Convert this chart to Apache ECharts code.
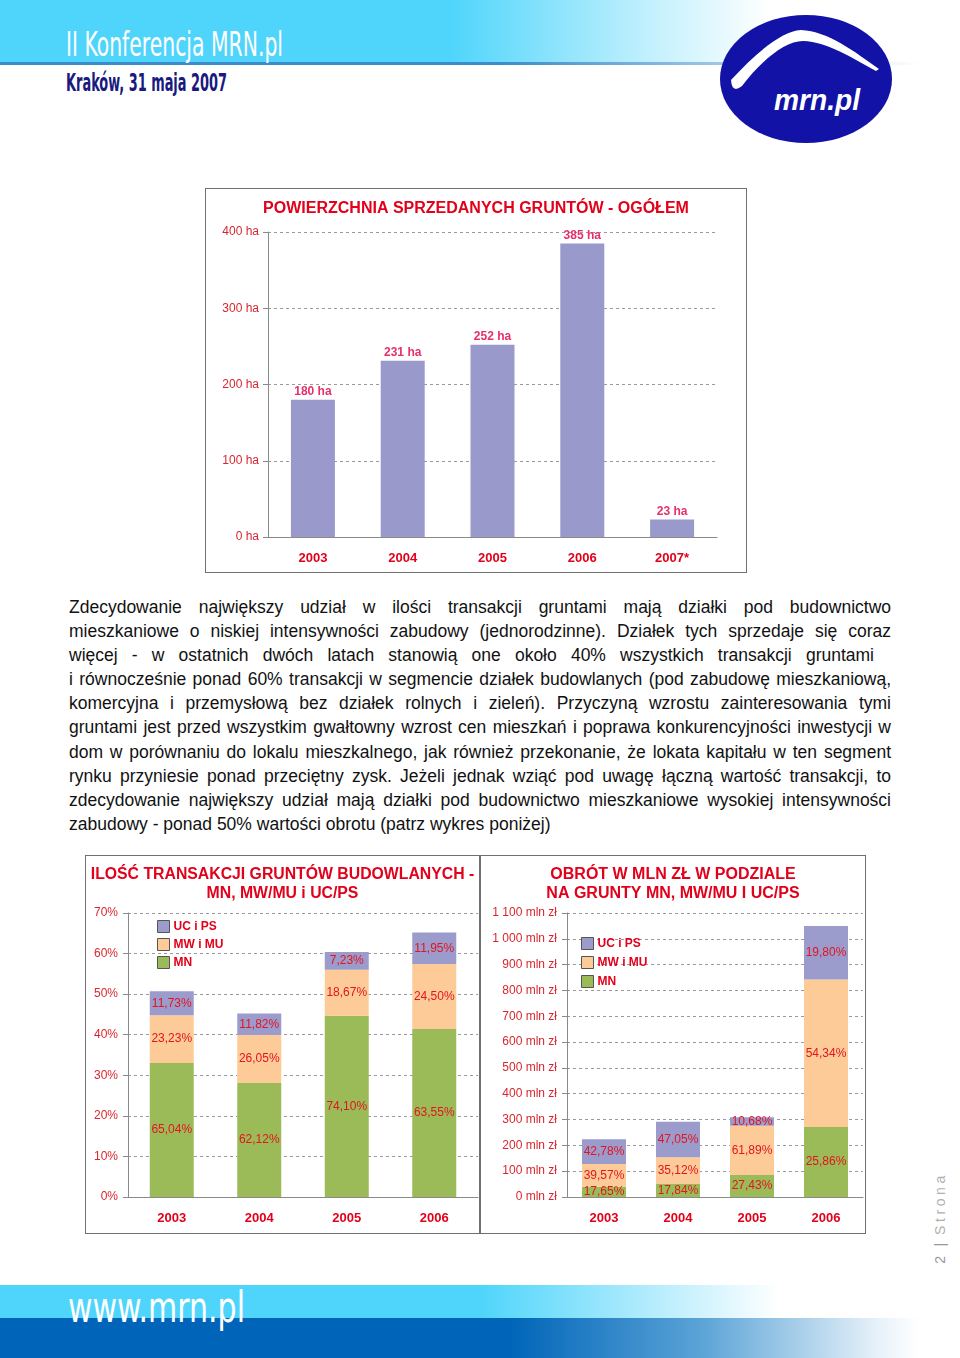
<!DOCTYPE html>
<html><head><meta charset="utf-8">
<script src="https://cdn.jsdelivr.net/npm/echarts/dist/echarts.min.js"></script>
<style>
body{margin:0;background:#fff;}
#page{position:relative;width:960px;height:1358px;overflow:hidden;font-family:'Liberation Sans',Arial,sans-serif;background:#fff;}
.abs{position:absolute;}
.chart{position:absolute;border:1px solid #707070;}
#para{position:absolute;left:69px;top:595px;width:822px;font-size:17.5px;line-height:24.1px;color:#111;}
#para div{text-align:justify;text-align-last:justify;white-space:nowrap;}
#para div.last{text-align:left;text-align-last:left;}
</style></head>
<body><div id="page">
<!-- header -->
<div class="abs" style="left:0;top:0;width:960px;height:62px;background:linear-gradient(to right,#4fd5fb 0,#4fd5fb 450px,#bdeffd 640px,#fff 770px);"></div>
<div class="abs" style="left:0;top:62px;width:960px;height:3px;background:linear-gradient(to right,#3a8ccb 0,#3a8ccb 500px,rgba(58,140,203,0.3) 800px,rgba(58,140,203,0) 920px);"></div>
<svg class="abs" style="left:0;top:0" width="960" height="160">
  <text x="66" y="56" textLength="217" lengthAdjust="spacingAndGlyphs" font-family="DejaVu Sans Condensed, DejaVu Sans, sans-serif" font-size="33" fill="#fff">II Konferencja MRN.pl</text>
  <text x="66" y="91" textLength="161" lengthAdjust="spacingAndGlyphs" font-family="DejaVu Sans Condensed, DejaVu Sans, sans-serif" font-weight="bold" font-size="24" fill="#1a1a7e">Kraków, 31 maja 2007</text>
  <ellipse cx="806" cy="79" rx="86" ry="64" fill="#1212a6"/>
  <path d="M731 80 C757 52,782 31,801 30 C828 31,855 52,879 69 L876 71 C852 58,828 42,803 41 C785 41,762 60,742 86 Q732 94,731 80 Z" fill="#fff"/>
  <text x="817" y="110" text-anchor="middle" textLength="86" lengthAdjust="spacingAndGlyphs" font-family="Liberation Sans, Arial, sans-serif" font-weight="bold" font-style="italic" font-size="29" fill="#fff">mrn.pl</text>
</svg>

<div id="c1" class="chart" style="left:205px;top:188px;width:540px;height:383px;"></div>

<div id="para">
<div>Zdecydowanie największy udział w ilości transakcji gruntami mają działki pod budownictwo</div>
<div>mieszkaniowe o niskiej intensywności zabudowy (jednorodzinne). Działek tych sprzedaje się coraz</div>
<div style="width:805px">więcej - w ostatnich dwóch latach stanowią one około 40% wszystkich transakcji gruntami</div>
<div>i równocześnie ponad 60% transakcji w segmencie działek budowlanych (pod zabudowę mieszkaniową,</div>
<div>komercyjna i przemysłową bez działek rolnych i zieleń). Przyczyną wzrostu zainteresowania tymi</div>
<div>gruntami jest przed wszystkim gwałtowny wzrost cen mieszkań i poprawa konkurencyjności inwestycji w</div>
<div>dom w porównaniu do lokalu mieszkalnego, jak również przekonanie, że lokata kapitału w ten segment</div>
<div>rynku przyniesie ponad przeciętny zysk. Jeżeli jednak wziąć pod uwagę łączną wartość transakcji, to</div>
<div>zdecydowanie największy udział mają działki pod budownictwo mieszkaniowe wysokiej intensywności</div>
<div class="last">zabudowy - ponad 50% wartości obrotu (patrz wykres poniżej)</div>
</div>

<div id="c2" class="chart" style="left:85px;top:855px;width:393px;height:377px;"></div>
<div id="c3" class="chart" style="left:480px;top:855px;width:384px;height:377px;"></div>

<div class="abs" style="left:940px;top:1218px;transform:translate(-50%,-50%) rotate(-90deg);white-space:nowrap;font-size:14px;letter-spacing:3.6px;color:#b0b0b0;font-family:'Liberation Sans',Arial,sans-serif;"><span style="color:#999">2</span><span style="color:#999;letter-spacing:2px"> | </span>Strona</div>

<!-- footer -->
<div class="abs" style="left:0;top:1285px;width:960px;height:33px;background:linear-gradient(to right,#4fd5fb 0,#4fd5fb 480px,#c5f0fd 680px,#fff 780px);"></div>
<div class="abs" style="left:0;top:1318px;width:960px;height:40px;background:linear-gradient(to right,#0065b8 0,#0065b8 510px,#5aa3d6 700px,#e8f2fa 880px,#fff 920px);"></div>
<svg class="abs" style="left:0;top:1270px" width="400" height="88">
  <text x="68" y="52" textLength="177" lengthAdjust="spacingAndGlyphs" font-family="DejaVu Sans Condensed, DejaVu Sans, sans-serif" font-size="43" fill="#fff">www.mrn.pl</text>
</svg>
</div>

<script>
// ---- data ----
const topCats = ['2003', '2004', '2005', '2006', '2007*'];
const topArea = [180, 231, 252, 385, 23];

const yearsB = ['2003', '2004', '2005', '2006'];
const seriesNames = ['MN', 'MW i MU', 'UC i PS'];

// ILOŚĆ TRANSAKCJI – bar heights (% of all transactions)
const cntMN = [33.0, 28.1, 44.7, 41.4];
const cntMW = [11.8, 11.8, 11.3, 16.0];
const cntUC = [5.9, 5.3, 4.4, 7.8];
const cntMNLbl = ['65,04%', '62,12%', '74,10%', '63,55%'];
const cntMWLbl = ['23,23%', '26,05%', '18,67%', '24,50%'];
const cntUCLbl = ['11,73%', '11,82%', '7,23%', '11,95%'];

// OBRÓT – mln zł
const valMN = [39.5, 51.9, 84.8, 271.5];
const valMW = [88.6, 102.2, 191.2, 570.6];
const valUC = [95.8, 136.9, 33.0, 207.9];
const valMNLbl = ['17,65%', '17,84%', '27,43%', '25,86%'];
const valMWLbl = ['39,57%', '35,12%', '61,89%', '54,34%'];
const valUCLbl = ['42,78%', '47,05%', '10,68%', '19,80%'];

// ---- styling ----
const FF = "'Liberation Sans', Arial, sans-serif";
const RED = '#e2001a';
const AXRED = '#d9262e';
const LBLRED = '#e5141e';
const C_MN = '#9bbb59', C_MW = '#fccb98', C_UC = '#9b9bcc';

function fmtThousands(v) { return String(v).replace(/\B(?=(\d{3})+(?!\d))/g, ' '); }

// Top chart
const c1 = echarts.init(document.getElementById('c1'));
c1.setOption({
  animation: false,
  title: { text: 'POWIERZCHNIA SPRZEDANYCH GRUNTÓW - OGÓŁEM', left: 'center', top: 7,
    textStyle: { color: RED, fontSize: 16, fontWeight: 'bold', fontFamily: FF } },
  grid: { left: 62, right: 29, top: 43, bottom: 35 },
  xAxis: { type: 'category', data: topCats,
    axisLine: { lineStyle: { color: '#8a8a8a' } },
    axisTick: { length: 6, lineStyle: { color: '#8a8a8a' } },
    axisLabel: { color: RED, fontWeight: 'bold', fontSize: 13, margin: 15, fontFamily: FF } },
  yAxis: { type: 'value', min: 0, max: 400, interval: 100,
    axisLine: { show: true, lineStyle: { color: '#8a8a8a' } },
    axisTick: { show: true, length: 5, lineStyle: { color: '#8a8a8a' } },
    splitLine: { lineStyle: { type: [3, 3], color: '#9a9a9a' } },
    axisLabel: { formatter: '{value} ha', color: AXRED, fontSize: 12, margin: 9, fontFamily: FF } },
  series: [{ type: 'bar', data: topArea, barWidth: 44, itemStyle: { color: '#9999cc' },
    label: { show: true, position: 'top', distance: 2, formatter: '{c} ha', color: '#e4306c',
      fontWeight: 'bold', fontSize: 12, fontFamily: FF } }]
});

function stackedOption(title, titleSize, legendLeft, legendTop, legendGap, gridLeft, gridRight, yMax, yInt, yFmt, vals, lbls) {
  const colors = [C_MN, C_MW, C_UC];
  return {
    animation: false,
    title: { text: title, left: 'center', top: 4,
      textStyle: { color: RED, fontSize: titleSize, fontWeight: 'bold', fontFamily: FF, lineHeight: 19 } },
    legend: { orient: 'vertical', left: legendLeft, top: legendTop, padding: 0,
      itemWidth: 12, itemHeight: 12, itemGap: legendGap,
      icon: 'rect',
      data: ['UC i PS', 'MW i MU', 'MN'],
      itemStyle: { borderColor: '#555', borderWidth: 1 },
      textStyle: { color: RED, fontWeight: 'bold', fontSize: 12, fontFamily: FF, lineHeight: 12, padding: [0, 0, 0, -1] } },
    grid: { left: gridLeft, right: gridRight, top: 57, bottom: 36 },
    xAxis: { type: 'category', data: yearsB,
      axisLine: { lineStyle: { color: '#8a8a8a' } },
      axisTick: { length: 6, lineStyle: { color: '#8a8a8a' } },
      axisLabel: { color: RED, fontWeight: 'bold', fontSize: 13, margin: 15, fontFamily: FF } },
    yAxis: { type: 'value', min: 0, max: yMax, interval: yInt,
      axisLine: { show: true, lineStyle: { color: '#8a8a8a' } },
      axisTick: { show: true, length: 5, lineStyle: { color: '#8a8a8a' } },
      splitLine: { lineStyle: { type: [3, 3], color: '#9a9a9a' } },
      axisLabel: { formatter: yFmt, color: AXRED, fontSize: 12, margin: 10, fontFamily: FF } },
    series: seriesNames.map((n, i) => ({
      name: n, type: 'bar', stack: 'a', barWidth: 44, data: vals[i],
      itemStyle: { color: colors[i] },
      label: { show: true, position: 'inside', color: LBLRED, fontSize: 12, fontFamily: FF,
        formatter: p => lbls[i][p.dataIndex] }
    }))
  };
}

const c2 = echarts.init(document.getElementById('c2'));
c2.setOption(stackedOption('ILOŚĆ TRANSAKCJI GRUNTÓW BUDOWLANYCH -\nMN, MW/MU i UC/PS', 15.8, 71, 64, 5, 42, 1, 70, 10,
  '{value}%', [cntMN, cntMW, cntUC], [cntMNLbl, cntMWLbl, cntUCLbl]));

const c3 = echarts.init(document.getElementById('c3'));
c3.setOption(stackedOption('OBRÓT W MLN ZŁ W PODZIALE\nNA GRUNTY MN, MW/MU I UC/PS', 16, 100, 81, 6, 86, 2, 1100, 100,
  v => fmtThousands(v) + ' mln zł', [valMN, valMW, valUC], [valMNLbl, valMWLbl, valUCLbl]));
</script>
</body></html>
